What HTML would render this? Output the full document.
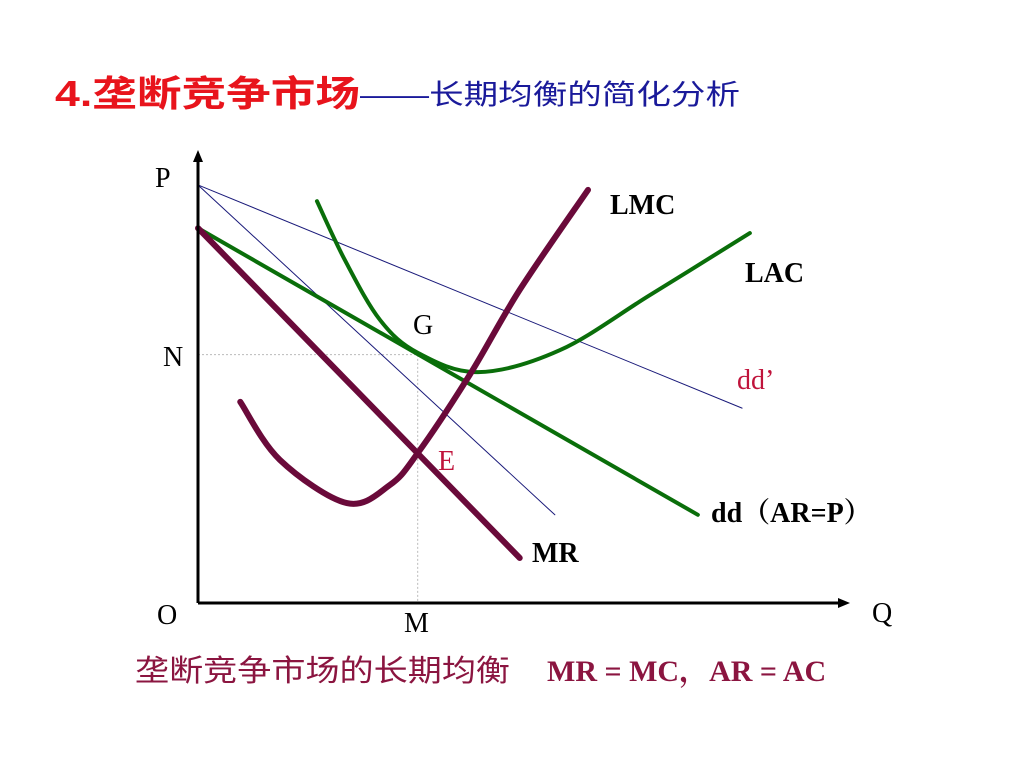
<!DOCTYPE html>
<html><head><meta charset="utf-8"><style>
body{margin:0;background:#fff}
svg{display:block}
text{font-family:"Liberation Serif","Noto Serif CJK SC",serif}
.cjk{font-family:"Liberation Sans","Noto Sans CJK SC",sans-serif}
</style></head><body>
<svg id="chart" width="1024" height="768" viewBox="0 0 1024 768">
<text x="55" y="106" font-size="36" fill="#e8141c" font-weight="bold" class="cjk" textLength="305" lengthAdjust="spacingAndGlyphs">4.垄断竞争市场</text>
<text x="360" y="104" font-size="28" fill="#1a1a9a" class="cjk" textLength="380" lengthAdjust="spacingAndGlyphs">——长期均衡的简化分析</text>
<g id="plot"></g>
<line x1="198" y1="603" x2="198" y2="158" stroke="#000" stroke-width="3"/>
<polygon points="198,150 193,162 203,162" fill="#000"/>
<line x1="198" y1="603" x2="840" y2="603" stroke="#000" stroke-width="3"/>
<polygon points="850,603 838,598 838,608" fill="#000"/>
<text x="155" y="187" font-size="28">P</text>
<text x="163" y="366" font-size="28">N</text>
<text x="157" y="624" font-size="28">O</text>
<text x="404" y="632" font-size="28">M</text>
<text x="872" y="622" font-size="28">Q</text>
<text x="413" y="334" font-size="28">G</text>
<text x="438" y="470" font-size="28" fill="#c0143c">E</text>
<text x="610" y="214" font-size="28" font-weight="bold">LMC</text>
<text x="745" y="282" font-size="28" font-weight="bold">LAC</text>
<text x="737" y="389" font-size="28" fill="#c0143c">dd’</text>
<text x="711" y="522" font-size="28" font-weight="bold" class="">dd<tspan font-family="Noto Serif CJK SC,serif">（</tspan>AR=P<tspan font-family="Noto Serif CJK SC,serif">）</tspan></text>
<text x="532" y="562" font-size="28" font-weight="bold">MR</text>
<text x="135" y="681" font-size="30" fill="#8b1540" class="cjk" textLength="375" lengthAdjust="spacingAndGlyphs">垄断竞争市场的长期均衡</text>
<text x="547" y="681" font-size="30" fill="#8b1540" font-weight="bold">MR = MC<tspan font-family="Noto Serif CJK SC,serif">，</tspan>AR = AC</text>
</svg>
<script>
const thinLine1 = [[0,92.9],[83.7,43.3]];
const thinLine2 = [[0,92.9],[54.9,19.6]];
const ddLine = [[0,83.3],[76.9,19.6]];
const mrLine = [[0,83.3],[49.5,10]];
const lacCurve = [[18.3,89.3],[22.6,76.2],[28,62.9],[33.8,55.6],[43.1,51.3],[55.7,56.2],[69.5,68.4],[84.9,82.2]];
const lmcCurve = [[6.5,44.7],[12.6,31.8],[22.9,22.2],[29.5,26.2],[33.8,33.3],[41.8,50.7],[49.5,69.6],[60,91.8]];
const eqPoint = [33.8,55.2];
const sx = q => 198 + q*6.5;
const sy = p => 603 - p*4.5;
const NS = "http://www.w3.org/2000/svg";
const g = document.getElementById('plot');
function smooth(pts){
  const P = pts.map(([q,p])=>[sx(q),sy(p)]);
  let d = `M${P[0][0]},${P[0][1]}`;
  for(let i=0;i<P.length-1;i++){
    const p0=P[Math.max(i-1,0)],p1=P[i],p2=P[i+1],p3=P[Math.min(i+2,P.length-1)];
    const c1=[p1[0]+(p2[0]-p0[0])/6,p1[1]+(p2[1]-p0[1])/6];
    const c2=[p2[0]-(p3[0]-p1[0])/6,p2[1]-(p3[1]-p1[1])/6];
    d+=` C${c1[0]},${c1[1]} ${c2[0]},${c2[1]} ${p2[0]},${p2[1]}`;
  }
  return d;
}
function addPath(pts,color,w,name){
  const el=document.createElementNS(NS,'path');
  el.setAttribute('d',smooth(pts));
  el.setAttribute('fill','none');
  el.setAttribute('stroke',color);
  el.setAttribute('stroke-width',w);
  el.setAttribute('stroke-linecap','round');
  
  
  g.appendChild(el);
}
// guide lines
const gl1=document.createElementNS(NS,'path');
gl1.setAttribute('d',`M${sx(0)},${sy(eqPoint[1])} H${sx(eqPoint[0])} V${sy(0)}`);
gl1.setAttribute('fill','none');gl1.setAttribute('stroke','#bbb');gl1.setAttribute('stroke-width','1');gl1.setAttribute('stroke-dasharray','2,2');


g.appendChild(gl1);
addPath(thinLine1,'#1a1a7a',1,'dd-prime-line');
addPath(thinLine2,'#1a1a7a',1,'dd-prime-steep-line');
addPath(ddLine,'#0a6e0a',4,'dd-line');
addPath(lacCurve,'#0a6e0a',4,'lac-curve');
addPath(mrLine,'#6a0a3a',6,'mr-line');
addPath(lmcCurve,'#6a0a3a',6,'lmc-curve');
</script>
</body></html>
